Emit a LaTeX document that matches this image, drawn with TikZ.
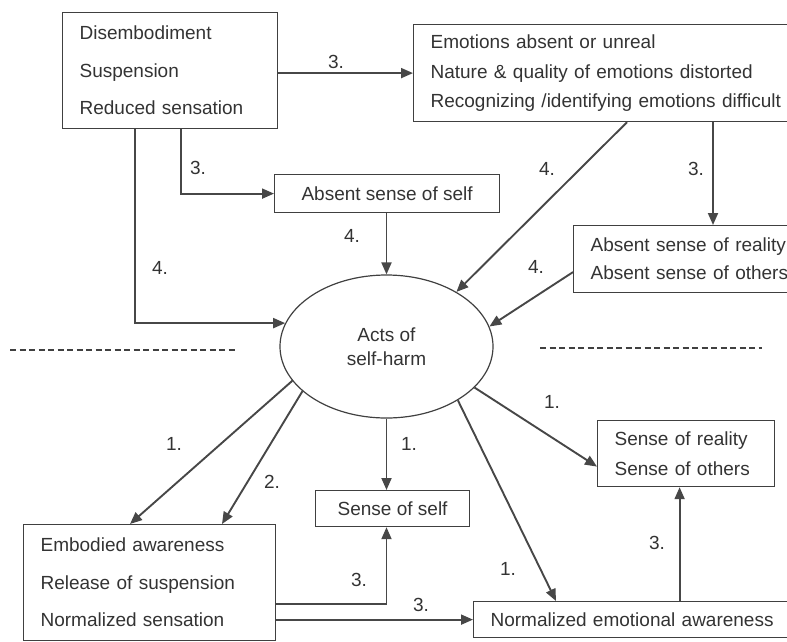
\documentclass[tikz,border=0pt]{standalone}
\usepackage{fontspec}
\setmainfont{Liberation Sans}
\usetikzlibrary{shapes.geometric, arrows.meta, positioning}

\begin{document}
\begin{tikzpicture}[x=1pt,y=-1pt,font=\fontsize{19}{23}\selectfont,
  box/.style={draw=black!75,line width=1.2pt,anchor=north west,inner xsep=17pt,inner ysep=0pt,align=left,text=black!80},
  arr/.style={-{Triangle[length=12pt,width=10pt]},draw=black!72,line width=1.9pt},
  lbl/.style={text=black!80,inner sep=0pt},
  sep/.style={draw=black!75,line width=1.3pt,dash pattern=on 6pt off 3.5pt},
  wide/.style={font=\fontsize{19}{37.5}\selectfont},
  tight/.style={font=\fontsize{19}{29.5}\selectfont}]
\useasboundingbox (0,0) rectangle (787,641);
\clip (0,0) rectangle (787,641);

\node[box,wide,text width=181pt,minimum height=116pt] (dis) at (62,12) {Disembodiment\\Suspension\\Reduced sensation};
\node[box,tight,text width=366pt,minimum height=97pt] (emoabs) at (413,24) {Emotions absent or unreal\\Nature \& quality of emotions distorted\\Recognizing /identifying emotions difficult};
\node[box,align=center,minimum width=225pt,minimum height=38pt] (selfabs) at (274,174) {Absent sense of self};
\node[box,font=\fontsize{19}{28}\selectfont,text width=230pt,minimum height=67pt] (othabs) at (573,225) {Absent sense of reality\\Absent sense of others};
\node[draw=black!75,line width=1.2pt,ellipse,minimum width=213pt,minimum height=143pt,inner sep=0pt,align=center,text=black!80,font=\fontsize{19}{24}\selectfont] (acts) at (386.5,346.5) {Acts of\\self-harm};
\node[box,wide,text width=218pt,minimum height=116pt] (body) at (23,524) {Embodied awareness\\Release of suspension\\Normalized sensation};
\node[box,align=center,minimum width=154pt,minimum height=36pt] (self) at (315,490) {Sense of self};
\node[box,font=\fontsize{19}{30}\selectfont,text width=143pt,minimum height=66pt] (others) at (597,420) {Sense of reality\\Sense of others};
\node[box,text width=300pt,minimum height=36pt] (emonorm) at (473,601) {Normalized emotional awareness};

\draw[sep] (10,350) -- (235,350);
\draw[sep] (540,348) -- (762,348);

\coordinate (d1) at ([xshift=73pt]dis.south west);
\coordinate (d2) at ([xshift=119pt]dis.south west);
\coordinate (e1) at ([xshift=214pt]emoabs.south west);
\coordinate (c1) at ([xshift=140pt]othabs.north west);
\coordinate (o1) at ([xshift=-6.5pt]others.south);

\draw[arr] (dis.east |- emoabs.west) -- (emoabs.west);
\draw[arr] (d2) |- (selfabs.west);
\draw[arr] (d1) |- (acts.167);
\draw[arr] (selfabs.south -| acts.north) -- (acts.north);
\draw[arr] (e1) -- (acts.38);
\draw[arr] (emoabs.south -| c1) -- (c1);
\draw[arr] ([yshift=-13pt]othabs.west) -- (acts.11);

\draw[arr] (acts.200) -- ([xshift=107pt]body.north west);
\draw[arr] (acts.208) -- ([xshift=199pt]body.north west);
\draw[arr] (acts.south) -- (acts.south |- self.north);
\draw[arr] (acts.-25) -- ([yshift=-13pt]others.west);
\draw[arr] (acts.-37) -- ([xshift=83pt]emonorm.north west);
\draw[arr] (emonorm.north -| o1) -- (o1);
\draw[arr] ([yshift=-21pt]body.east) -| (self.south -| acts.south);
\draw[arr] (body.east |- emonorm.west) -- (emonorm.west);

\node[lbl] (l1) at (336,62) {3.};
\node[lbl] (l2) at (198,168) {3.};
\node[lbl] (l3) at (160,268) {4.};
\node[lbl] (l4) at (352,236) {4.};
\node[lbl] (l5) at (547,169) {4.};
\node[lbl] (l6) at (696,169) {3.};
\node[lbl] (l7) at (536,267) {4.};
\node[lbl] (l8) at (174,444) {1.};
\node[lbl] (l9) at (272,482) {2.};
\node[lbl] (l10) at (409,444) {1.};
\node[lbl] (l11) at (552,402) {1.};
\node[lbl] (l12) at (508,569) {1.};
\node[lbl] (l13) at (657,543) {3.};
\node[lbl] (l14) at (359,580) {3.};
\node[lbl] (l15) at (421,605) {3.};
\end{tikzpicture}
\end{document}
